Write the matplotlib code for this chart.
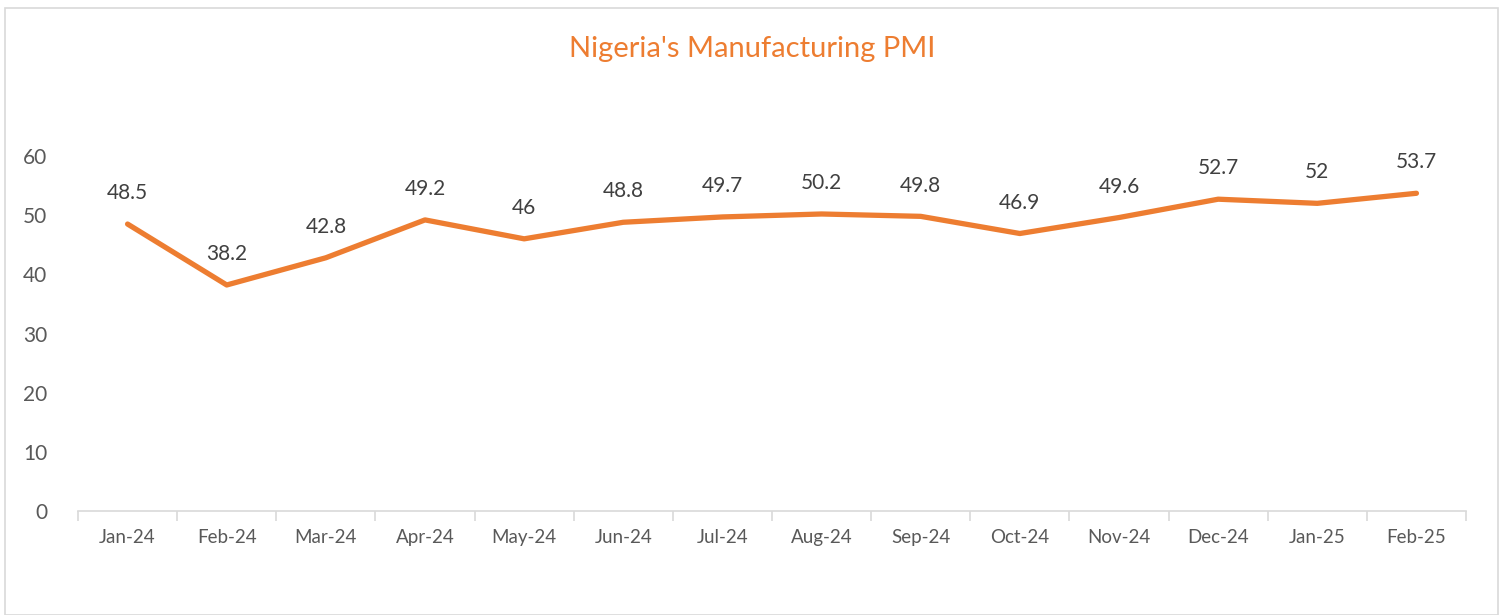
import matplotlib
matplotlib.use("Agg")
import matplotlib.pyplot as plt
from matplotlib.patches import Rectangle

months = ["Jan-24", "Feb-24", "Mar-24", "Apr-24", "May-24", "Jun-24", "Jul-24",
          "Aug-24", "Sep-24", "Oct-24", "Nov-24", "Dec-24", "Jan-25", "Feb-25"]
pmi = [48.5, 38.2, 42.8, 49.2, 46, 48.8, 49.7, 50.2, 49.8, 46.9, 49.6, 52.7, 52, 53.7]
yticks = [0, 10, 20, 30, 40, 50, 60]

plt.rcParams['font.family'] = ['Lato', 'DejaVu Sans']
orange = "#ED7D31"
grey_text = "#595959"
axis_grey = "#D9D9D9"

W, H = 1505, 615
fig = plt.figure(figsize=(W / 100, H / 100), dpi=100)
fig.patches.append(Rectangle((5 / W, 0), (1498 - 5) / W, (H - 8) / H, transform=fig.transFigure,
                             fill=False, edgecolor="#D9D9D9", linewidth=1.2))

ax = fig.add_axes([78 / W, (H - 511) / H, (1466 - 78) / W, (511 - 156) / H])
x = list(range(len(months)))
ax.plot(x, pmi, color=orange, linewidth=3.8, solid_capstyle="round", solid_joinstyle="round",
        clip_on=False)
for xi, v in zip(x, pmi):
    ax.annotate(f"{v:g}", (xi, v), xytext=(0, 15), textcoords="offset points",
                ha="center", va="bottom", fontsize=15, color="#404040")

ax.set_xlim(-0.5, len(months) - 0.5)
ax.set_ylim(0, 60)
ax.set_yticks(yticks)
ax.set_yticklabels([str(t) for t in yticks], fontsize=15, color=grey_text)
ax.tick_params(axis="y", length=0, pad=22)
ax.set_xticks(x)
ax.set_xticklabels(months, fontsize=13.5, color=grey_text)
ax.tick_params(axis="x", which="major", length=0, pad=13)
ax.set_xticks([i - 0.5 for i in range(len(months) + 1)], minor=True)
ax.tick_params(axis="x", which="minor", length=7, color=axis_grey, width=1.2)

for s in ["left", "right", "top"]:
    ax.spines[s].set_visible(False)
ax.spines["bottom"].set_color(axis_grey)
ax.spines["bottom"].set_linewidth(1.2)

fig.text(0.5, (H - 49) / H, "Nigeria's Manufacturing PMI", ha="center", va="center",
         fontsize=21, color=orange)

fig.savefig("out.png", dpi=100)
